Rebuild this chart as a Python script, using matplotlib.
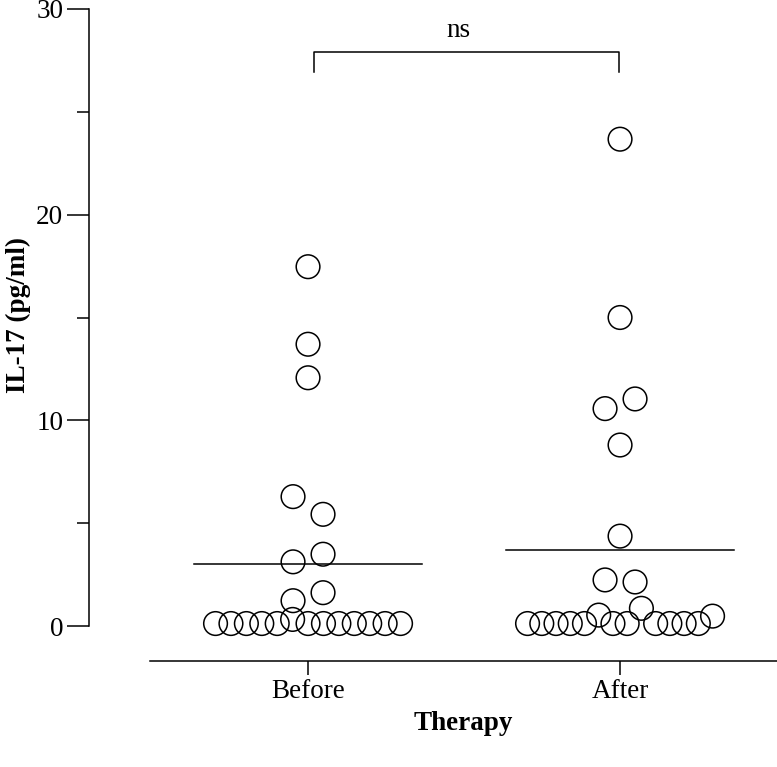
import numpy as np
import matplotlib
matplotlib.use("Agg")
import matplotlib.pyplot as plt

# ---------------- data ----------------
categories = ["Before", "After"]
before_values = [0.12, 0.12, 0.12, 0.12, 0.12, 0.32, 0.12, 0.12, 0.12, 0.12, 0.12,
                 0.12, 0.12, 1.23, 1.62, 3.12, 3.49, 6.29, 5.43, 12.07, 13.7, 17.47]
after_values = [0.12, 0.12, 0.12, 0.12, 0.12, 0.53, 0.12, 0.12, 0.86, 0.12, 0.12,
                0.12, 0.12, 0.48, 2.24, 2.14, 4.37, 8.8, 10.57, 11.04, 15.0, 23.67]
y_ticks = [0, 10, 20, 30]
y_minor_ticks = [5, 15, 25]
significance_label = "ns"
y_label = "IL-17 (pg/ml)"
x_label = "Therapy"

# ---------------- style ----------------
plt.rcParams["font.family"] = ["Liberation Serif", "DejaVu Serif"]
FS = 19.5

W, H = 777, 767
Y0, Y30, XAX = 626, 9, 661
fig = plt.figure(figsize=(W / 100, H / 100), dpi=100)
ax = fig.add_axes([150 / W, (H - XAX) / H, 627 / W, (XAX - Y30) / H])

ax.set_xlim(-0.5065, 1.503)
ax.set_ylim(-30 * (XAX - Y0) / (Y0 - Y30), 30)

for s in ["top", "right"]:
    ax.spines[s].set_visible(False)
ax.spines["left"].set_position(("outward", 61 * 0.72))
ax.spines["left"].set_bounds(0, 30)
for s in ["left", "bottom"]:
    ax.spines[s].set_linewidth(1.1)
    ax.spines[s].set_color("black")

ax.set_yticks(y_ticks)
ax.set_yticks(y_minor_ticks, minor=True)
ax.set_xticks(range(len(categories)))
ax.set_xticklabels(categories)
ax.tick_params(axis="y", which="major", length=15.5, width=1.1, labelsize=FS, pad=3)
ax.tick_params(axis="y", which="minor", length=8.4, width=1.1)
ax.tick_params(axis="x", which="major", length=10, width=1.1, labelsize=FS, pad=3)

ax.set_ylabel(y_label, fontsize=FS, fontweight="bold")
ax.yaxis.set_label_coords(-0.19, (XAX - 315) / (XAX - Y30))
ax.set_xlabel(x_label, fontsize=FS, fontweight="bold", labelpad=5)

fig.canvas.draw()
x_px = (ax.transData.transform((1, 0)) - ax.transData.transform((0, 0)))[0]
y_px = (ax.transData.transform((0, 1)) - ax.transData.transform((0, 0)))[1]


def swarm_offsets(vals, row_h_px=20.0, max_step_px=30.0, max_width_px=185.0):
    vals = np.asarray(vals, dtype=float)
    order = np.argsort(vals, kind="stable")
    rows, cur, start = [], [], None
    for i in order:
        ypx = vals[i] * y_px
        if start is None or ypx - start > row_h_px:
            if cur:
                rows.append(cur)
            cur, start = [i], ypx
        else:
            cur.append(i)
    if cur:
        rows.append(cur)
    offs = np.zeros(len(vals))
    for r in rows:
        r = sorted(r)
        n = len(r)
        if n == 1:
            continue
        step = min(max_step_px, max_width_px / (n - 1))
        for k, i in enumerate(r):
            offs[i] = (k - (n - 1) / 2) * step
    return offs / x_px


groups = [before_values, after_values]
for gi, vals in enumerate(groups):
    offs = swarm_offsets(vals)
    ax.scatter(gi + offs, vals, s=290, facecolors="none", edgecolors="black",
               linewidths=1.1, zorder=3, clip_on=False)
    m = float(np.mean(vals))
    ax.plot([gi - 0.366, gi + 0.366], [m, m], color="black", lw=1.1, zorder=2)

# significance bracket
yb, yt = 26.94, 27.9
ax.plot([0.02, 0.02, 0.997, 0.997], [yb, yt, yt, yb], color="black", lw=1.1,
        clip_on=False)
ax.text(0.482, yt + 0.45, significance_label, ha="center", va="bottom", fontsize=FS)

fig.savefig("out.png", dpi=100)
